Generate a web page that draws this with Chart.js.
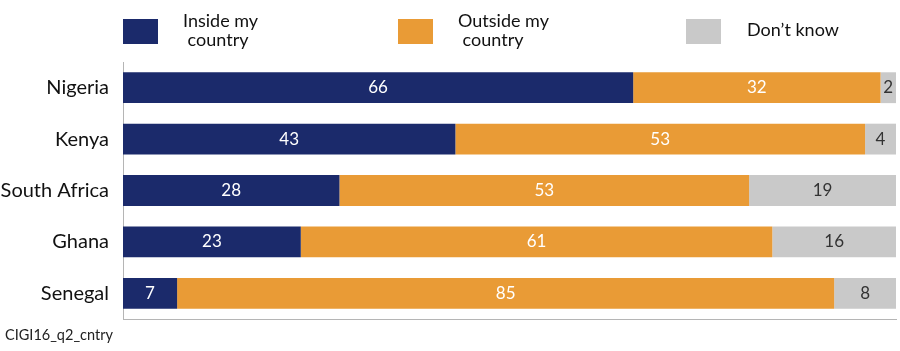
<!DOCTYPE html>
<html>
<head>
<meta charset="utf-8">
<script src="https://cdn.jsdelivr.net/npm/chart.js@4/dist/chart.umd.min.js"></script>
<style>
  html, body { margin: 0; padding: 0; background: #fff; }
  #wrap { width: 900px; height: 351px; position: relative; }
</style>
</head>
<body>
<div id="wrap"><canvas id="chart"></canvas></div>
<script>
const countries = ['Nigeria', 'Kenya', 'South Africa', 'Ghana', 'Senegal'];
const inside = [66, 43, 28, 23, 7];
const outside = [32, 53, 53, 61, 85];
const dontKnow = [2, 4, 19, 16, 8];

const seriesNames = [['Inside my', ' country'], ['Outside my', ' country'], ['Don\u2019t know']];
const colors = ['#1b2a6b', '#e99b36', '#c9c9c9'];
const labelColors = ['#ffffff', '#ffffff', '#333333'];
const FONT = 'Lato, "Noto Sans", sans-serif';

const legendPlugin = {
    id: 'customLegend',
    afterDraw(chart) {
        const ctx = chart.ctx;
        const boxX = [123, 398, 686];
        ctx.save();
        ctx.font = '18px ' + FONT;
        ctx.textBaseline = 'alphabetic';
        seriesNames.forEach(function (lines, i) {
            ctx.fillStyle = colors[i];
            ctx.fillRect(boxX[i], 19, 35, 25);
            ctx.fillStyle = '#111';
            if (lines.length === 1) {
                ctx.fillText(lines[0], boxX[i] + 61, 36);
            } else {
                ctx.fillText(lines[0], boxX[i] + 60, 27);
                ctx.fillText(lines[1], boxX[i] + 60, 46);
            }
        });
        ctx.font = '14.5px ' + FONT;
        ctx.fillStyle = '#222';
        ctx.fillText('CIGI16_q2_cntry', 5, 340);
        ctx.restore();
    }
};

const valueLabels = {
    id: 'valueLabels',
    afterDatasetsDraw(chart) {
        const ctx = chart.ctx;
        ctx.save();
        ctx.font = '17px ' + FONT;
        ctx.textAlign = 'center';
        ctx.textBaseline = 'middle';
        chart.data.datasets.forEach(function (ds, i) {
            chart.getDatasetMeta(i).data.forEach(function (bar, j) {
                const x = (bar.x + bar.base) / 2;
                ctx.fillStyle = labelColors[i];
                ctx.fillText(ds.data[j], x, bar.y);
            });
        });
        ctx.restore();
    }
};

new Chart(document.getElementById('chart'), {
    type: 'bar',
    data: {
        labels: countries,
        datasets: [
            { label: 'Inside my country', data: inside, backgroundColor: colors[0] },
            { label: 'Outside my country', data: outside, backgroundColor: colors[1] },
            { label: 'Don\u2019t know', data: dontKnow, backgroundColor: colors[2] }
        ]
    },
    options: {
        indexAxis: 'y',
        responsive: true,
        maintainAspectRatio: false,
        animation: false,
        layout: { padding: { top: 62, bottom: 32, right: 4, left: 0 } },
        datasets: { bar: { barPercentage: 0.6, categoryPercentage: 1 } },
        plugins: {
            legend: { display: false },
            tooltip: { enabled: false }
        },
        scales: {
            x: {
                stacked: true,
                min: 0,
                max: 100,
                ticks: { display: false },
                grid: { display: false, drawTicks: false },
                border: { display: true, color: '#b5b5b5', width: 1 },
                afterFit(scale) { scale.height = 0; }
            },
            y: {
                stacked: true,
                ticks: { color: '#111', font: { size: 20, family: FONT }, padding: 14 },
                grid: { display: false, drawTicks: false },
                border: { display: true, color: '#b5b5b5', width: 1 },
                afterFit(scale) { scale.width = 123; }
            }
        }
    },
    plugins: [legendPlugin, valueLabels]
});
</script>
</body>
</html>
